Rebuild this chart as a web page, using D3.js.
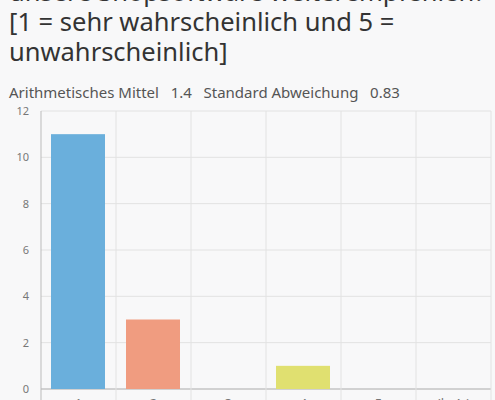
<!DOCTYPE html>
<html><head><meta charset="utf-8">
<script src="https://cdn.jsdelivr.net/npm/d3@7"></script>
<style>body{margin:0;background:#f8f8f9;font-family:"Noto Sans",sans-serif;}</style>
</head><body><svg id="c" width="495" height="400"></svg>
<script>
var categories = ["1", "2", "3", "4", "5", "(k. A.)"];
var counts = [11, 3, 0, 1, 0, 0];
var colors = ["#6aafdc", "#f09c80", "#b5d66f", "#e0e070", "#c79ad6", "#aaaaaa"];
var titleLines = ["unsere Shopsoftware weiterempfehlen?", "[1 = sehr wahrscheinlich und 5 =", "unwahrscheinlich]"];
var yTicks = [0, 2, 4, 6, 8, 10, 12];

var svg = d3.select('#c');
svg.selectAll('text.title').data(titleLines).enter().append('text')
	.attr('x', 9).attr('y', (d, i) => 1 + i * 30)
	.style('font-size', '25.5px').style('fill', '#333').text(d => d);
svg.append('text').attr('x', 9).attr('y', 98).style('font-size', '15px').style('fill', '#555')
	.attr('xml:space', 'preserve')
	.text('Arithmetisches Mittel   1.4   Standard Abweichung   0.83');

var x = d3.scaleBand().domain(categories).range([41, 491]);
var y = d3.scaleLinear().domain([0, 12]).range([389, 111]);

var g = svg.append('g');
g.selectAll('line.h').data(yTicks).enter().append('line')
	.attr('x1', 41).attr('x2', 491).attr('y1', d => y(d)).attr('y2', d => y(d))
	.style('stroke', d => d === 0 ? '#aaa' : '#e2e2e2');
g.selectAll('line.v').data(categories).enter().append('line')
	.attr('x1', d => x(d)).attr('x2', d => x(d)).attr('y1', 111).attr('y2', 400)
	.style('stroke', d => d === '1' ? '#bbb' : '#e2e2e2');
g.append('line').attr('x1', 491).attr('x2', 491).attr('y1', 111).attr('y2', 400).style('stroke', '#e2e2e2');
g.selectAll('text.yt').data(yTicks).enter().append('text')
	.attr('x', 29).attr('y', d => y(d) + 4).attr('text-anchor', 'end')
	.style('font-size', '11px').style('fill', '#777').text(d => d);

g.selectAll('rect').data(counts).enter().append('rect')
	.attr('x', (d, i) => x(categories[i]) + 10).attr('width', x.bandwidth() - 21)
	.attr('y', d => y(d)).attr('height', d => y(0) - y(d))
	.style('fill', (d, i) => colors[i]);

g.selectAll('text.xt').data(categories).enter().append('text')
	.attr('x', d => x(d) + x.bandwidth() / 2).attr('y', 408).attr('text-anchor', 'middle')
	.attr('xml:space', 'preserve')
	.style('font-size', '13px').style('fill', '#777').text(d => d);
</script></body></html>
